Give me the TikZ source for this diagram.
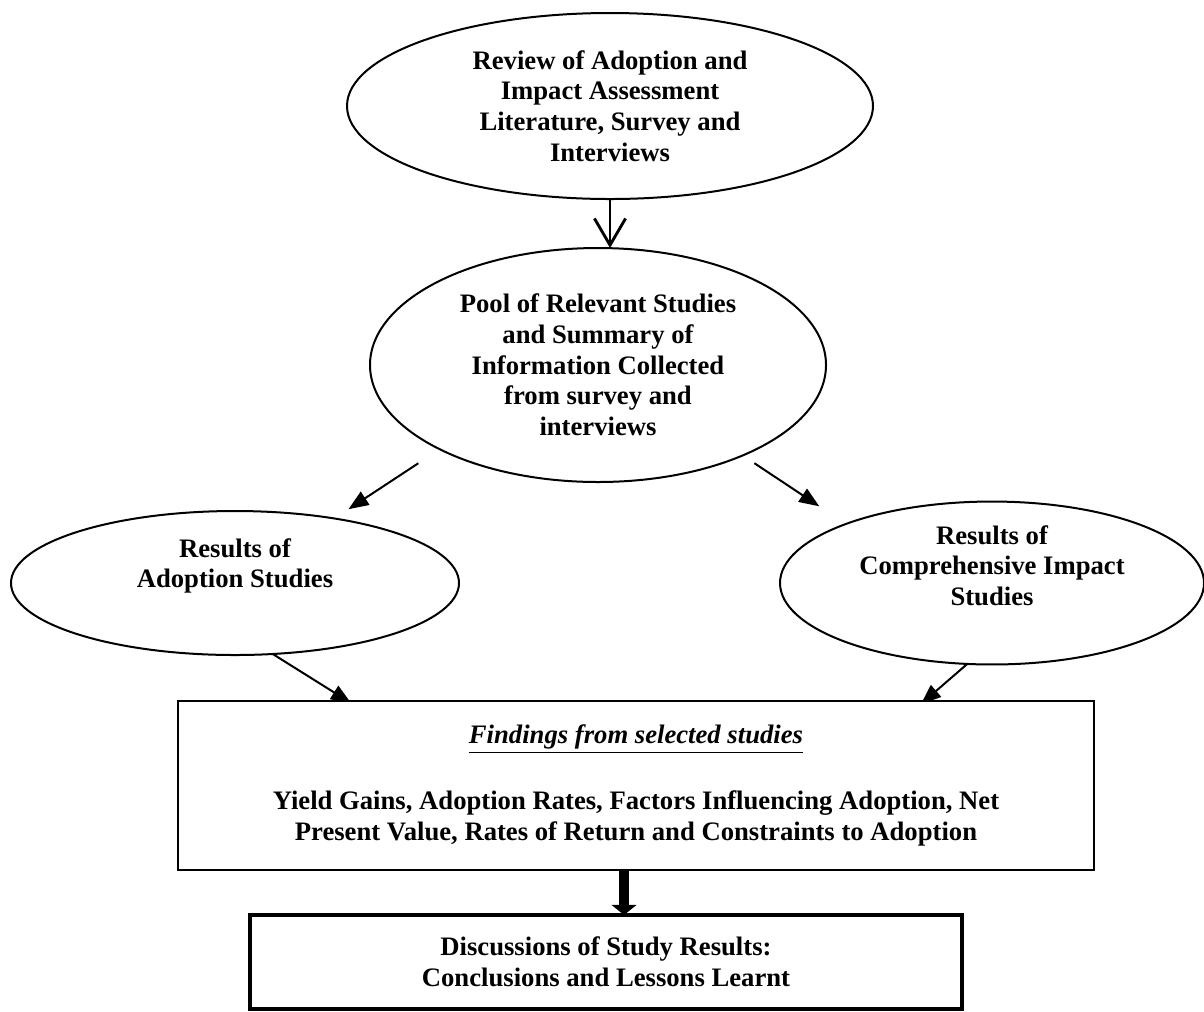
\documentclass[tikz,border=0pt]{standalone}
\usepackage{fontspec}
\setmainfont{Liberation Serif}
\usetikzlibrary{positioning,shapes.geometric,arrows.meta}

\begin{document}
\begin{tikzpicture}[x=0.45pt, y=-0.45pt,
    node distance=20pt,
 myoval/.style = {
        draw, ellipse, align=center, line width=0.9pt,
        font=\fontsize{12}{13.8}\selectfont\bfseries,
        inner sep=0pt, outer sep=0pt},
 mybox/.style = {
        draw, rectangle, align=center, line width=0.9pt, fill=white,
        font=\fontsize{12}{13.8}\selectfont\bfseries,
        inner sep=0pt, outer sep=0pt},
 arrow/.style = {line width=0.9pt,-{Triangle[length=9pt,width=7pt]}},
 openarrow/.style = {line width=1.3pt,-{Straight Barb[length=12pt,width=14pt]}},
 fatarrow/.style = {line width=4.5pt,-{Triangle[length=4.5pt,width=11pt]}}
                    ]
\useasboundingbox (0,0) rectangle (1204,1011);
% the ovals
\node (e1) [myoval, minimum width=236.7pt, minimum height=83.7pt] at (610,106)
    {Review of Adoption and\\ Impact Assessment\\ Literature, Survey and\\ Interviews};
\node (e2) [myoval, minimum width=205.2pt, minimum height=105.3pt] at (598,365)
    {Pool of Relevant Studies\\ and Summary of\\ Information Collected\\ from survey and\\ interviews};
\node (e3) [myoval, minimum width=201.6pt, minimum height=64.8pt] at (235,583)
    {Results of\\ Adoption Studies\\[4pt]};
\node (e4) [myoval, minimum width=190.8pt, minimum height=65.7pt] at (992,583)
    {Results of\\ Comprehensive Impact\\ Studies\\[2pt]};
% arrows between the ovals
\draw[openarrow] (e1.south) -- (e1.south |- e2.north);
\draw[arrow, shorten <=11.5pt, shorten >=7.6pt] (e2.-152) -- (e3.33);
\draw[arrow, shorten <=6.3pt, shorten >=14.4pt] (e2.-32) -- (e4.158);
% arrows into the findings box
\coordinate (inL) at (351,703);
\coordinate (inR) at (921,704);
\draw[arrow] (e3.-62) -- (inL);
\draw[arrow] (e4.-107) -- (inR);
% the boxes at the bottom
\node (box) [mybox, minimum width=412.2pt, minimum height=76pt] at (636,785.5)
    {\underline{\textit{Findings from selected studies}}\\[16pt]
     Yield Gains, Adoption Rates, Factors Influencing Adoption, Net\\
     Present Value, Rates of Return and Constraints to Adoption};
\node (fin) [mybox, line width=1.8pt, minimum width=320.4pt, minimum height=42.3pt,
    below=20.25pt of box, xshift=-13.5pt]
    {Discussions of Study Results:\\ Conclusions and Lessons Learnt};
\draw[fatarrow] ([xshift=-5.4pt]box.south) -- ([xshift=-5.4pt]box.south |- fin.north);
\end{tikzpicture}
\end{document}
